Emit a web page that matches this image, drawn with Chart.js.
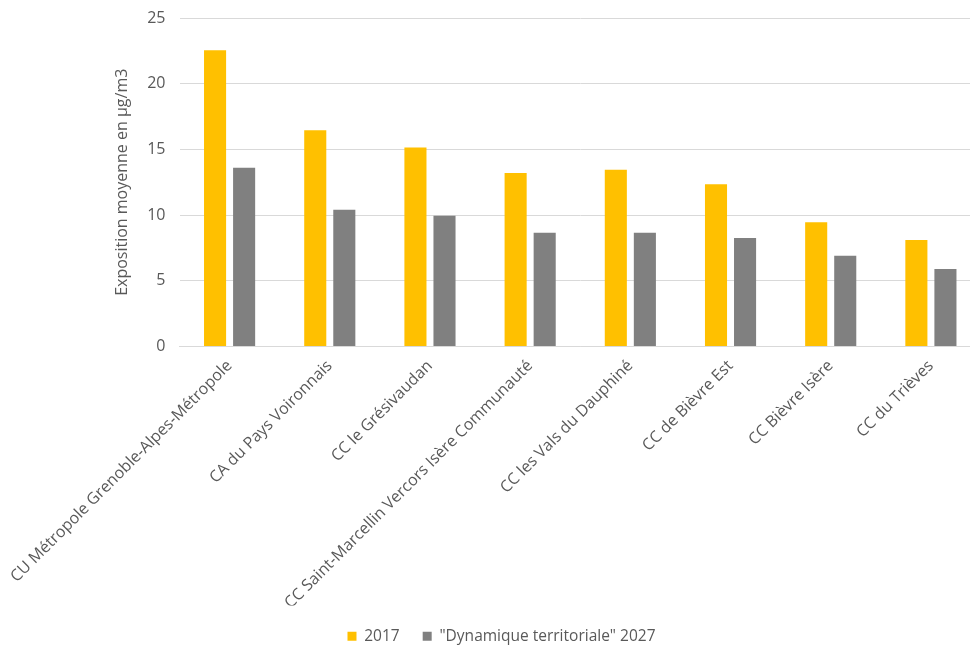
<!DOCTYPE html>
<html>
<head>
<meta charset="utf-8">
<script src="https://cdn.jsdelivr.net/npm/chart.js@4.4.1/dist/chart.umd.min.js"></script>
<style>
  html, body { margin: 0; padding: 0; background: #fff; overflow: hidden; }
  #wrap { position: relative; width: 981px; height: 654px; }
</style>
</head>
<body>
<div id="wrap"><canvas id="chart"></canvas></div>
<script>
// Territories (x categories)
var categories = [
  'CU Métropole Grenoble-Alpes-Métropole',
  'CA du Pays Voironnais',
  'CC le Grésivaudan',
  'CC Saint-Marcellin Vercors Isère Communauté',
  'CC les Vals du Dauphiné',
  'CC de Bièvre Est',
  'CC Bièvre Isère',
  'CC du Trièves'
];

// Mean exposure, µg/m3
var values2017 = [22.55, 16.45, 15.15, 13.2, 13.45, 12.35, 9.45, 8.1];
var values2027 = [13.6, 10.4, 9.95, 8.65, 8.65, 8.25, 6.9, 5.9];

var seriesLabels = ['2017', '"Dynamique territoriale" 2027'];
var yTicks = [0, 5, 10, 15, 20, 25];

var textColor = '#595959';
var gridColor = '#d9d9d9';
var fontFamily = '"Open Sans", "Noto Sans", sans-serif';

Chart.defaults.font.family = fontFamily;
Chart.defaults.color = textColor;

new Chart(document.getElementById('chart'), {
  type: 'bar',
  data: {
    labels: categories,
    datasets: [{
      label: seriesLabels[0],
      data: values2017,
      backgroundColor: '#ffc000',
      barPercentage: 0.76,
      categoryPercentage: 0.58
    }, {
      label: seriesLabels[1],
      data: values2027,
      backgroundColor: '#808080',
      barPercentage: 0.76,
      categoryPercentage: 0.58
    }]
  },
  options: {
    responsive: true,
    maintainAspectRatio: false,
    animation: false,
    layout: {
      padding: { top: 18, left: 22, right: 0, bottom: 0 }
    },
    plugins: {
      legend: {
        position: 'bottom',
        labels: {
          boxWidth: 9,
          boxHeight: 9,
          padding: 23,
          color: textColor,
          font: { size: 15.5 }
        }
      },
      tooltip: { enabled: false }
    },
    scales: {
      x: {
        grid: { display: false },
        border: { color: gridColor },
        ticks: {
          minRotation: 45,
          maxRotation: 45,
          autoSkip: false,
          padding: 2,
          color: textColor,
          font: { size: 16 }
        },
        afterFit: function(scale) { scale.height = 259; }
      },
      y: {
        min: 0,
        max: 25,
        afterBuildTicks: function(scale) {
          scale.ticks = yTicks.map(function(v) { return { value: v }; });
        },
        grid: { color: gridColor, drawTicks: false },
        border: { display: false },
        ticks: {
          padding: 14,
          color: textColor,
          font: { size: 16 }
        },
        title: {
          display: true,
          text: 'Exposition moyenne en µg/m3',
          color: textColor,
          padding: { top: 91, bottom: 4 },
          font: { size: 16 }
        },
        afterFit: function(scale) {
          scale.width = 157.5;
          scale.paddingTop = 0;
        }
      }
    }
  }
});
</script>
</body>
</html>
